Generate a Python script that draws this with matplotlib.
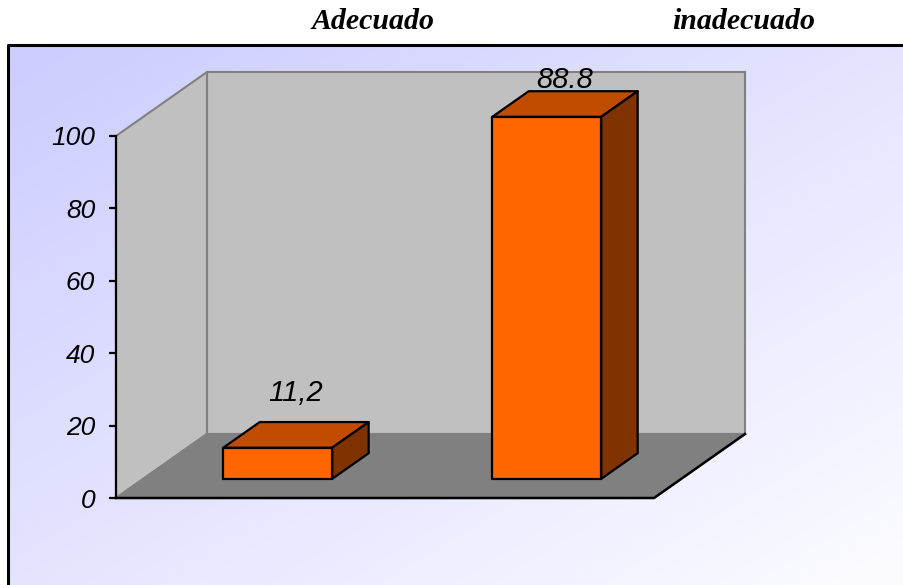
import numpy as np
import matplotlib.pyplot as plt
from matplotlib.patches import Polygon

# data
categories = ['Adecuado', 'inadecuado']
bar_heights = [8.6, 100.0]          # drawn bar heights on the 0-100 axis
value_labels = ['11,2', '88.8']     # labels written above the bars
yticks = [0, 20, 40, 60, 80, 100]

W, H = 904, 585
fig = plt.figure(figsize=(W / 100, H / 100), dpi=100)

# background: white page, framed panel with a diagonal lavender gradient
bg = fig.add_axes([0, 0, 1, 1])
bg.set_xlim(0, W)
bg.set_ylim(H, 0)
bg.axis('off')
gx, gy = np.meshgrid(np.linspace(0, 1, 300), np.linspace(0, 1, 200))
t = (gx + gy) / 2
c0 = np.array([204, 204, 255]) / 255
c1 = np.array([252, 252, 255]) / 255
grad = c0[None, None, :] * (1 - t[..., None]) + c1[None, None, :] * t[..., None]
bg.imshow(grad, extent=[8, W, H, 45], aspect='auto', zorder=0)
bg.plot([8, 8, W], [H, 45, 45], color='black', lw=2.2, zorder=1)

# category titles above the frame
title_font = dict(family='Liberation Serif', fontweight='bold', fontstyle='italic',
                  fontsize=21.5, ha='center', va='baseline')
for name, xc in zip(categories, [373, 744]):
    bg.text(xc, 29, name, **title_font)

# main pseudo-3D chart axes (front plane)
ax = fig.add_axes([116 / W, (H - 498) / H, 538 / W, 362 / H])
ax.set_xlim(0, 2)
ax.set_ylim(0, 100)
ax.patch.set_visible(False)
for s in ['top', 'right', 'bottom']:
    ax.spines[s].set_visible(False)
ax.spines['left'].set_linewidth(1.6)
ax.spines['left'].set_zorder(10)
ax.set_xticks([])
ax.set_yticks(yticks)
ax.tick_params(axis='y', direction='out', length=5, width=1.6, pad=10, labelsize=19)
for lab in ax.get_yticklabels():
    lab.set_fontstyle('italic')
    lab.set_family('Liberation Sans')

# depth offset expressed in data units
dx = 91 / 538 * 2
dy = 64 / 362 * 100

wall_c, floor_c, edge_c = '#c0c0c0', '#808080', '#808080'
# back wall
ax.add_patch(Polygon([(dx, dy), (2 + dx, dy), (2 + dx, 100 + dy), (dx, 100 + dy)],
                     closed=True, fc=wall_c, ec=edge_c, lw=1.5, zorder=1, clip_on=False))
# left side wall
ax.add_patch(Polygon([(0, 0), (dx, dy), (dx, 100 + dy), (0, 100)],
                     closed=True, fc=wall_c, ec=edge_c, lw=1.5, zorder=1, clip_on=False))
# floor
ax.add_patch(Polygon([(0, 0), (2, 0), (2 + dx, dy), (dx, dy)],
                     closed=True, fc=floor_c, ec=edge_c, lw=1.5, zorder=2, clip_on=False))
ax.plot([0, 2, 2 + dx], [0, 0, dy], color='black', lw=1.8, zorder=3, clip_on=False)

# bars
bw = 0.405
d0, d1 = 0.30, 0.70
front_c, top_c, side_c = '#ff6600', '#c04c00', '#7f3300'
label_offsets = [21, 3]   # pixels above the back top edge
for i, (h, txt) in enumerate(zip(bar_heights, value_labels)):
    x0 = i + 0.5 - bw / 2 + d0 * dx
    x1 = x0 + bw
    ox, oy = (d1 - d0) * dx, (d1 - d0) * dy
    yb = d0 * dy
    kw = dict(closed=True, ec='black', lw=1.6, zorder=5, clip_on=False, joinstyle='round')
    ax.add_patch(Polygon([(x0, yb), (x1, yb), (x1, yb + h), (x0, yb + h)], fc=front_c, **kw))
    ax.add_patch(Polygon([(x0, yb + h), (x1, yb + h), (x1 + ox, yb + h + oy),
                          (x0 + ox, yb + h + oy)], fc=top_c, **kw))
    ax.add_patch(Polygon([(x1, yb), (x1 + ox, yb + oy), (x1 + ox, yb + h + oy),
                          (x1, yb + h)], fc=side_c, **kw))
    ax.annotate(txt, ((x0 + x1) / 2 + ox / 2, yb + h + oy),
                xytext=(0, label_offsets[i] * 0.72), textcoords='offset points',
                ha='center', va='baseline', fontsize=21, fontstyle='italic',
                family='Liberation Sans', zorder=6, annotation_clip=False)

fig.savefig('out.png', dpi=100)
